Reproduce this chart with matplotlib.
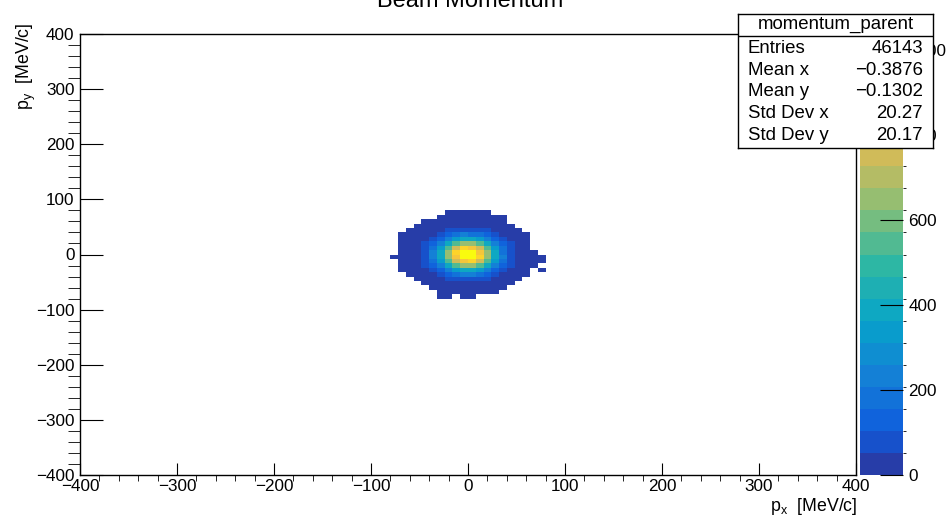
import numpy as np
import matplotlib
matplotlib.use("Agg")
import matplotlib.pyplot as plt
from matplotlib.colors import LinearSegmentedColormap, ListedColormap, BoundaryNorm

plt.rcParams['font.family'] = ['Liberation Sans', 'DejaVu Sans']
plt.rcParams['mathtext.default'] = 'regular'

# 8 MeV/c bins, only the populated window around the beam spot is stored
bin_width = 8
x_lo, x_hi = -80, 80
y_lo, y_hi = -80, 80

# counts per bin, rows from the top (py = 72..80) down to the bottom (py = -80..-72)
counts = [
    [0, 0, 0, 0, 0, 0, 0, 1, 1, 2, 1, 1, 1, 0, 0, 0, 0, 0, 0, 0],
    [0, 0, 0, 0, 0, 0, 1, 2, 3, 3, 4, 3, 2, 1, 1, 0, 0, 0, 0, 0],
    [0, 0, 0, 0, 1, 2, 5, 7, 10, 12, 11, 9, 7, 4, 2, 0, 0, 0, 0, 0],
    [0, 0, 0, 1, 3, 8, 14, 23, 30, 37, 35, 31, 21, 13, 7, 3, 0, 0, 0, 0],
    [0, 0, 1, 3, 9, 19, 37, 57, 81, 95, 92, 79, 58, 35, 18, 8, 3, 0, 0, 0],
    [0, 1, 2, 7, 20, 43, 81, 130, 176, 210, 207, 179, 127, 79, 41, 18, 7, 2, 0, 0],
    [0, 1, 5, 14, 37, 81, 152, 244, 339, 398, 394, 336, 246, 150, 79, 35, 13, 4, 0, 0],
    [0, 2, 7, 23, 57, 130, 246, 397, 544, 643, 638, 547, 394, 243, 128, 57, 21, 7, 0, 0],
    [0, 3, 10, 30, 81, 179, 338, 546, 752, 884, 880, 749, 543, 335, 176, 79, 30, 9, 0, 0],
    [0, 3, 12, 36, 95, 210, 397, 642, 883, 1037, 1033, 880, 639, 394, 207, 93, 35, 11, 3, 0],
    [1, 3, 12, 37, 94, 208, 396, 640, 881, 1035, 1036, 883, 640, 396, 209, 94, 36, 12, 3, 1],
    [0, 3, 10, 31, 80, 177, 336, 544, 750, 881, 883, 752, 545, 338, 178, 80, 31, 10, 3, 1],
    [0, 2, 7, 22, 58, 129, 244, 395, 546, 640, 642, 544, 396, 245, 130, 58, 22, 7, 2, 0],
    [0, 1, 4, 14, 36, 80, 150, 245, 336, 395, 397, 338, 244, 151, 80, 36, 14, 4, 0, 1],
    [0, 0, 2, 7, 19, 42, 79, 128, 178, 208, 210, 177, 130, 80, 42, 19, 7, 2, 0, 0],
    [0, 0, 0, 3, 8, 19, 36, 58, 80, 93, 95, 80, 57, 36, 19, 9, 3, 0, 0, 0],
    [0, 0, 0, 0, 3, 7, 14, 22, 31, 36, 35, 30, 22, 14, 7, 3, 0, 0, 0, 0],
    [0, 0, 0, 0, 0, 2, 4, 7, 10, 12, 11, 10, 7, 5, 2, 0, 0, 0, 0, 0],
    [0, 0, 0, 0, 0, 0, 1, 2, 3, 3, 3, 3, 2, 1, 0, 0, 0, 0, 0, 0],
    [0, 0, 0, 0, 0, 0, 1, 1, 0, 1, 1, 0, 0, 0, 0, 0, 0, 0, 0, 0],
]

stat_names = ["Entries", "Mean x", "Mean y", "Std Dev x", "Std Dev y"]
stat_values = ["46143", "\u22120.3876", "\u22120.1302", "20.27", "20.17"]

# ROOT kBird palette
bird_stops = [0.0, 0.125, 0.25, 0.375, 0.5, 0.625, 0.75, 0.875, 1.0]
bird_r = [0.2082, 0.0592, 0.0780, 0.0232, 0.1802, 0.5301, 0.8186, 0.9956, 0.9764]
bird_g = [0.1664, 0.3599, 0.5041, 0.6419, 0.7178, 0.7492, 0.7328, 0.7862, 0.9832]
bird_b = [0.5293, 0.8684, 0.8385, 0.7914, 0.6425, 0.4662, 0.3499, 0.1968, 0.0539]
bird = LinearSegmentedColormap.from_list(
    "bird", [(s, (r, g, b)) for s, r, g, b in zip(bird_stops, bird_r, bird_g, bird_b)])

n_cont = 20
z = np.array(counts[::-1], dtype=float)
zmax = z.max()
levels = np.linspace(0, zmax, n_cont + 1)
cmap = ListedColormap([bird((i + 0.99) / n_cont) for i in range(n_cont)])
norm = BoundaryNorm(levels, cmap.N)

xe = np.arange(x_lo, x_hi + bin_width, bin_width)
ye = np.arange(y_lo, y_hi + bin_width, bin_width)

fig = plt.figure(figsize=(9.49, 5.18), dpi=100)
W, H = 949, 518
ax = fig.add_axes([80 / W, 1 - 475 / H, 776 / W, 441 / H])
mesh = ax.pcolormesh(xe, ye, np.ma.masked_equal(z, 0), cmap=cmap, norm=norm,
                     shading='flat', edgecolors='none', antialiased=False)
ax.set_xlim(-400, 400)
ax.set_ylim(-400, 400)
ax.set_xticks(np.arange(-400, 401, 100))
ax.set_yticks(np.arange(-400, 401, 100))
ax.set_xticks(np.arange(-400, 401, 20), minor=True)
ax.set_yticks(np.arange(-400, 401, 20), minor=True)
ax.tick_params(direction='in', labelsize=12.3, width=0.8)
ax.tick_params(axis='x', which='major', length=9, pad=3)
ax.tick_params(axis='x', which='minor', length=4.5)
ax.tick_params(axis='y', which='major', length=16.5, pad=4)
ax.tick_params(axis='y', which='minor', length=8.5)
for sp in ax.spines.values():
    sp.set_linewidth(1.0)

fig.text(857 / W, 1 - 511 / H, r"p$_{x}$  [MeV/c]", ha='right', va='baseline', fontsize=12.8)
fig.text(26 / W, 1 - 23 / H, r"p$_{y}$  [MeV/c]", ha='center', va='top',
         rotation=90, fontsize=12.8)
fig.text(470 / W, 1 - 7 / H, "Beam Momentum", ha='center', va='baseline', fontsize=17)

# colour scale on the right
cax = fig.add_axes([860 / W, 1 - 475 / H, 43 / W, 441 / H])
cb = fig.colorbar(mesh, cax=cax, spacing='proportional',
                  ticks=[0, 200, 400, 600, 800, 1000])
cb.outline.set_visible(False)
cb.ax.tick_params(direction='in', length=16.5, width=0.8, labelsize=12.3, pad=4)
cb.ax.set_yticklabels(["0", "200", "400", "600", "800", "1000"])

# statistics box
sax = fig.add_axes([738 / W, 1 - 148 / H, 195 / W, 134 / H])
sax.set_xlim(0, 1)
sax.set_ylim(0, 1)
sax.set_xticks([])
sax.set_yticks([])
sax.set_facecolor('white')
for sp in sax.spines.values():
    sp.set_linewidth(1.0)
sax.axhline(0.836, color='black', lw=1.0)
sax.text(0.5, 0.918, "momentum_parent", ha='center', va='center', fontsize=13.4)
row_y = [0.746, 0.582, 0.418, 0.254, 0.097]
for name, val, yy in zip(stat_names, stat_values, row_y):
    sax.text(0.05, yy, name, ha='left', va='center', fontsize=13.4)
    sax.text(0.949, yy, val, ha='right', va='center', fontsize=13.4)

fig.savefig("out.png", dpi=100)
